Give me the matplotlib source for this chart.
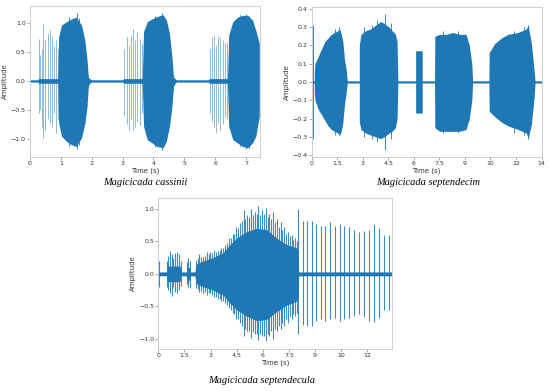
"""
Three cicada song waveforms (amplitude vs time), recreated with matplotlib.
Dense song bursts are drawn as filled envelopes, single clicks as vertical lines.
"""

import numpy as np
import matplotlib
matplotlib.use('Agg')
import matplotlib.pyplot as plt

BLUE = '#1f77b4'

# ---------------- Magicicada cassinii ----------------
p1_t = [0.0, 0.25, 0.27, 0.90, 0.93, 1.02, 1.18, 1.35, 1.50, 1.67, 1.78, 1.85, 1.89, 1.93, 2.0,
        3.0, 3.04, 3.64, 3.68, 3.80, 3.96, 4.12, 4.31, 4.42, 4.52, 4.60, 4.65, 4.70, 4.75,
        5.78, 5.81, 6.40, 6.44, 6.57, 6.73, 6.89, 7.05, 7.21, 7.32, 7.43]
p1_hi = [0.02, 0.02, 0.04, 0.04, 0.76, 0.96, 1.02, 1.07, 1.10, 0.96, 0.70, 0.36, 0.07, 0.04, 0.02,
         0.02, 0.04, 0.04, 0.85, 1.02, 1.07, 1.11, 1.14, 1.05, 0.82, 0.42, 0.07, 0.04, 0.02,
         0.02, 0.04, 0.04, 0.79, 1.02, 1.10, 1.13, 1.13, 1.05, 0.87, 0.65]
p1_lo = [-0.02, -0.02, -0.04, -0.04, -0.73, -0.95, -1.04, -1.10, -1.13, -0.98, -0.73, -0.44, -0.10, -0.04, -0.02,
         -0.02, -0.04, -0.04, -0.78, -1.01, -1.07, -1.13, -1.15, -1.04, -0.78, -0.44, -0.10, -0.04, -0.02,
         -0.02, -0.04, -0.04, -0.78, -1.01, -1.07, -1.13, -1.15, -1.07, -0.95, -0.61]
p1_click_t = [0.28, 0.34, 0.40, 0.43, 0.50, 0.57, 0.64, 0.71, 0.78, 0.85, 0.91,
              3.05, 3.13, 3.20, 3.27, 3.34, 3.41, 3.48, 3.55, 3.62,
              5.82, 5.89, 5.96, 6.03, 6.10, 6.17, 6.24, 6.31, 6.38]
p1_click_hi = [0.73, 0.45, 0.55, 0.98, 0.70, 0.83, 0.88, 0.77, 0.60, 0.71, 0.55,
               0.55, 0.75, 0.62, 0.80, 0.90, 0.70, 0.85, 0.72, 0.65,
               0.55, 0.75, 0.80, 0.62, 0.77, 0.75, 0.70, 0.66, 0.65]
p1_click_lo = [-0.55, -0.50, -0.79, -0.98, -0.84, -0.65, -0.73, -0.79, -0.55, -0.90, -0.67,
               -0.60, -0.75, -0.85, -0.66, -0.85, -0.80, -0.70, -0.78, -0.55,
               -0.55, -0.70, -0.80, -0.90, -0.72, -0.85, -0.75, -0.62, -0.65]
p1_peak_t = [1.28, 1.53, 1.60, 4.05, 4.28, 4.35, 6.80, 7.00, 7.10]
p1_peak_hi = [1.10, 1.17, 1.08, 1.12, 1.17, 1.10, 1.14, 1.16, 1.12]
p1_peak_lo = [-1.12, -1.17, -1.10, -1.14, -1.19, -1.12, -1.12, -1.17, -1.16]
p1_xticks = [0, 1, 2, 3, 4, 5, 6, 7]
p1_xlabels = ['0', '1', '2', '3', '4', '5', '6', '7']
p1_yticks = [-1.0, -0.5, 0.0, 0.5, 1.0]

# ---------------- Magicicada septendecim ----------------
p2_t = [0.0, 0.16, 0.16, 0.2, 0.4, 0.6, 0.8, 1.0, 1.2, 1.4, 1.6, 1.7, 1.8, 1.9, 2.0, 2.1, 2.17,
        2.9, 2.9, 3.0, 3.3, 3.6, 3.9, 4.2, 4.4, 4.7, 4.9, 5.1, 5.2, 5.25,
        6.33, 6.33, 6.73, 6.73,
        7.48, 7.5, 7.8, 8.2, 8.6, 9.0, 9.4, 9.6, 9.75, 9.8,
        10.79, 10.81, 11.15, 11.56, 11.96, 12.57, 13.08, 13.18, 13.38, 13.55, 13.6, 14.0]
p2_hi = [0.006, 0.006, 0.06, 0.10, 0.14, 0.18, 0.22, 0.24, 0.26, 0.27, 0.28, 0.29, 0.26, 0.22, 0.12, 0.07, 0.006,
         0.006, 0.20, 0.26, 0.28, 0.29, 0.31, 0.33, 0.32, 0.30, 0.28, 0.26, 0.22, 0.006,
         0.006, 0.17, 0.17, 0.006,
         0.006, 0.25, 0.26, 0.26, 0.27, 0.26, 0.26, 0.20, 0.10, 0.006,
         0.006, 0.16, 0.21, 0.24, 0.26, 0.27, 0.29, 0.31, 0.21, 0.06, 0.006, 0.006]
p2_lo = [-0.006, -0.006, -0.06, -0.10, -0.15, -0.18, -0.21, -0.24, -0.26, -0.27, -0.28, -0.29, -0.27, -0.22, -0.12, -0.06, -0.006,
         -0.006, -0.22, -0.26, -0.28, -0.29, -0.30, -0.31, -0.30, -0.28, -0.27, -0.25, -0.20, -0.006,
         -0.006, -0.17, -0.17, -0.006,
         -0.006, -0.25, -0.27, -0.27, -0.27, -0.27, -0.26, -0.20, -0.10, -0.006,
         -0.006, -0.16, -0.19, -0.22, -0.24, -0.26, -0.28, -0.31, -0.23, -0.08, -0.006, -0.006]
p2_click_t = [0.10]
p2_click_hi = [0.31]
p2_click_lo = [-0.31]
p2_peak_t = [1.45, 1.65, 3.2, 3.7, 4.0, 4.46, 4.8, 8.0, 8.9, 12.3, 12.9, 13.15]
p2_peak_hi = [0.29, 0.30, 0.30, 0.31, 0.34, 0.37, 0.32, 0.28, 0.28, 0.28, 0.30, 0.31]
p2_peak_lo = [-0.29, -0.29, -0.30, -0.31, -0.33, -0.37, -0.31, -0.28, -0.28, -0.28, -0.29, -0.31]
p2_xticks = list(np.linspace(0, 14, 10))
p2_xlabels = ['0', '1.5', '3', '4.5', '6', '7.5', '9', '10', '12', '14']
p2_yticks = [-0.4, -0.3, -0.2, -0.1, 0.0, 0.1, 0.2, 0.3, 0.4]

# ---------------- Magicicada septendecula ----------------
p3_t = [0.0, 0.04, 0.5, 0.55, 1.3, 1.35, 1.68, 1.72, 1.88, 1.92, 2.18, 2.25, 2.68, 3.27, 3.87,
        4.27, 4.66, 5.26, 5.85, 6.45, 7.04, 7.64, 8.23, 8.33, 8.36, 13.9]
p3_hi = [0.03, 0.03, 0.03, 0.12, 0.12, 0.03, 0.03, 0.10, 0.10, 0.03, 0.03, 0.15, 0.20, 0.25, 0.33,
         0.45, 0.55, 0.65, 0.70, 0.68, 0.55, 0.45, 0.40, 0.35, 0.03, 0.03]
p3_lo = [-0.03, -0.03, -0.03, -0.12, -0.12, -0.03, -0.03, -0.10, -0.10, -0.03, -0.03, -0.15, -0.20, -0.25, -0.33,
         -0.45, -0.55, -0.65, -0.72, -0.70, -0.58, -0.48, -0.42, -0.35, -0.03, -0.03]
p3_click_t = [0.02, 0.50, 0.60, 0.70, 0.80, 0.90, 1.00, 1.12, 1.25, 1.35, 1.70, 1.78, 1.86,
              2.22, 2.45, 2.66, 2.88, 3.10, 3.32, 3.55, 3.76, 3.98, 4.20, 4.42, 4.64, 4.86, 5.08,
              5.30, 5.52, 5.74, 5.96, 6.18, 6.40, 6.62, 6.84, 7.06, 7.28, 7.50, 7.72, 7.94, 8.16, 8.33,
              2.34, 2.56, 2.77, 2.99, 3.21, 3.44, 3.66, 3.87, 4.09, 4.31, 4.53, 4.75, 4.97, 5.19,
              5.41, 5.63, 5.85, 6.07, 6.29, 6.51, 6.73, 6.95, 7.17, 7.39, 7.61, 7.83, 8.05, 8.25,
              8.63, 8.87, 9.13, 9.39, 9.67, 9.93, 10.22, 10.52, 10.82, 11.07, 11.37, 11.65, 11.97,
              12.25, 12.54, 12.84, 13.14, 13.43, 13.73]
p3_click_hi = [0.20, 0.20, 0.28, 0.35, 0.30, 0.25, 0.32, 0.34, 0.30, 0.20, 0.18, 0.25, 0.20,
               0.22, 0.30, 0.26, 0.34, 0.33, 0.36, 0.35, 0.40, 0.45, 0.55, 0.62, 0.72, 0.78, 0.98,
               0.90, 1.00, 0.95, 1.05, 0.98, 1.02, 0.92, 0.95, 0.85, 0.80, 0.72, 0.65, 0.60, 0.55, 1.00,
               0.24, 0.26, 0.28, 0.30, 0.32, 0.33, 0.36, 0.40, 0.47, 0.55, 0.62, 0.70, 0.82, 0.85,
               0.88, 0.90, 0.92, 0.90, 0.92, 0.88, 0.85, 0.80, 0.72, 0.68, 0.62, 0.58, 0.52, 0.50,
               0.81, 0.81, 0.82, 0.76, 0.73, 0.74, 0.79, 0.73, 0.76, 0.74, 0.72, 0.68, 0.64,
               0.66, 0.68, 0.76, 0.70, 0.60, 0.60]
p3_click_lo = [-0.20, -0.20, -0.25, -0.30, -0.34, -0.20, -0.28, -0.30, -0.25, -0.18, -0.15, -0.20, -0.22,
               -0.22, -0.28, -0.30, -0.32, -0.30, -0.36, -0.38, -0.42, -0.45, -0.52, -0.60, -0.70, -0.75, -0.95,
               -0.88, -0.98, -0.92, -1.02, -0.95, -1.03, -0.96, -1.00, -0.88, -0.85, -0.80, -0.75, -0.70, -0.65, -0.93,
               -0.24, -0.27, -0.28, -0.30, -0.32, -0.35, -0.38, -0.42, -0.48, -0.55, -0.62, -0.70, -0.80, -0.85,
               -0.88, -0.90, -0.92, -0.92, -0.95, -0.92, -0.88, -0.85, -0.80, -0.75, -0.70, -0.65, -0.62, -0.60,
               -0.78, -0.80, -0.80, -0.72, -0.70, -0.72, -0.70, -0.68, -0.72, -0.70, -0.68, -0.64, -0.62,
               -0.66, -0.72, -0.74, -0.68, -0.56, -0.56]
p3_xticks = list(np.linspace(0, 14, 10))[:9]
p3_xlabels = ['0', '1.5', '3', '4.5', '6', '7.5', '9', '10', '12']
p3_yticks = [-1.0, -0.5, 0.0, 0.5, 1.0]

captions = ['Magicicada cassinii', 'Magicicada septendecim', 'Magicicada septendecula']


def draw_wave(ax, t, hi, lo, click_t, click_hi, click_lo, peak_t=None, peak_hi=None, peak_lo=None,
              click_alpha=0.5, click_lw=0.7):
    """画一个波形：包络填充 + 单独的脉冲竖线"""
    ax.fill_between(t, lo, hi, color=BLUE, linewidth=0)
    ax.vlines(click_t, click_lo, click_hi, color=BLUE, linewidth=click_lw, alpha=click_alpha)
    if peak_t is not None:
        ax.vlines(peak_t, peak_lo, peak_hi, color=BLUE, linewidth=0.6)


def style_axes(ax, xlim, ylim, xticks, xlabels, yticks):
    ax.set_xlim(*xlim)
    ax.set_ylim(*ylim)
    ax.set_xticks(xticks)
    ax.set_xticklabels(xlabels)
    ax.set_yticks(yticks)
    ax.set_yticklabels([f'{v:.1f}'.replace('-', '\u2212') for v in yticks])
    ax.tick_params(labelsize=4.5, length=2, width=0.5, pad=1, colors='#333333')
    ax.tick_params(color='#888888')
    for s in ax.spines.values():
        s.set_color('#c8c8c8')
        s.set_linewidth(0.6)
    ax.set_xlabel('Time (s)', fontsize=5, labelpad=1, color='#333333')
    ax.set_ylabel('Amplitude', fontsize=5, labelpad=2, color='#333333')


def main():
    fig = plt.figure(figsize=(5.5, 3.91), dpi=100)

    ax1 = fig.add_axes([0.0545, 0.5985, 0.418, 0.386])
    draw_wave(ax1, p1_t, p1_hi, p1_lo, p1_click_t, p1_click_hi, p1_click_lo,
              p1_peak_t, p1_peak_hi, p1_peak_lo, click_alpha=0.5, click_lw=0.7)
    style_axes(ax1, (0, 7.45), (-1.31, 1.29), p1_xticks, p1_xlabels, p1_yticks)

    ax2 = fig.add_axes([0.5667, 0.5985, 0.418, 0.384])
    draw_wave(ax2, p2_t, p2_hi, p2_lo, p2_click_t, p2_click_hi, p2_click_lo,
              p2_peak_t, p2_peak_hi, p2_peak_lo, click_alpha=0.9)
    style_axes(ax2, (0, 14), (-0.41, 0.41), p2_xticks, p2_xlabels, p2_yticks)

    ax3 = fig.add_axes([0.2878, 0.1074, 0.4244, 0.386])
    draw_wave(ax3, p3_t, p3_hi, p3_lo, p3_click_t, p3_click_hi, p3_click_lo,
              click_alpha=0.85, click_lw=0.8)
    style_axes(ax3, (0, 13.9), (-1.155, 1.165), p3_xticks, p3_xlabels, p3_yticks)

    cap_kw = dict(fontsize=7.5, style='italic', family='Liberation Serif', ha='center', va='center')
    fig.text(0.2636, 0.532, captions[0], **cap_kw)
    fig.text(0.778, 0.532, captions[1], **cap_kw)
    fig.text(0.476, 0.0256, captions[2], **cap_kw)

    fig.savefig('out.png', dpi=100)
    plt.close(fig)


if __name__ == '__main__':
    main()
